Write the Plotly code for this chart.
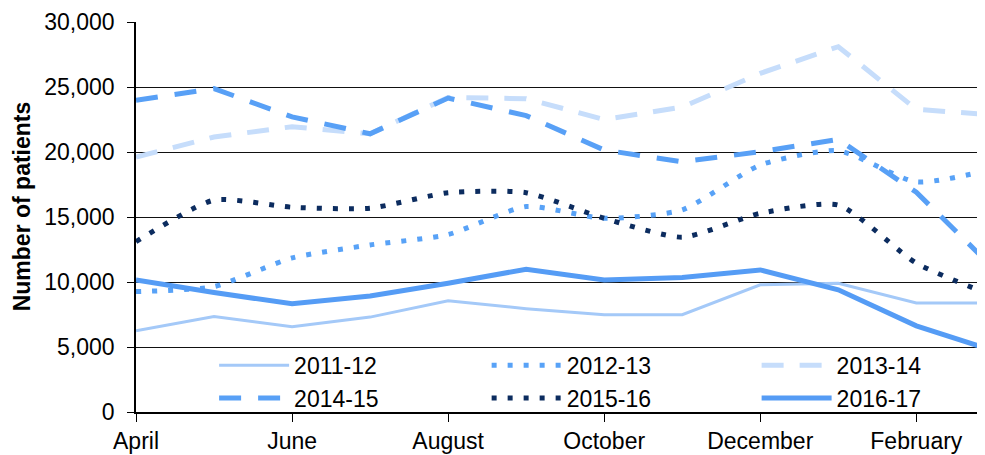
import plotly.graph_objs as go

months = ["April", "May", "June", "July", "August", "September", "October",
          "November", "December", "January", "February", "March"]
tick_months = ["April", "June", "August", "October", "December", "February"]

y_2011_12 = [6250, 7350, 6550, 7300, 8550, 7950, 7480, 7480, 9780, 9900, 8380, 8380]
y_2012_13 = [9260, 9650, 11850, 12850, 13650, 15800, 14900, 15550, 19000, 20100, 17700, 18700]
y_2013_14 = [19600, 21150, 21950, 21400, 24200, 24100, 22500, 23450, 26050, 28100, 23280, 22850]
y_2014_15 = [23980, 24880, 22700, 21400, 24150, 22800, 20150, 19250, 20020, 20970, 16900, 11000]
y_2015_16 = [13100, 16300, 15750, 15680, 16870, 16870, 14900, 13450, 15280, 15920, 11450, 8900]
y_2016_17 = [10160, 9190, 8320, 8930, 9910, 10980, 10160, 10340, 10930, 9400, 6630, 4700]

fig = go.Figure()

# name, values, line style, shape, legend column
series = [
    ("2011-12", y_2011_12, dict(color="#a4c9f8", width=3), "linear", "legend"),
    ("2012-13", y_2012_13, dict(color="#58a2f7", width=5, dash="5px,11px"), "spline", "legend2"),
    ("2013-14", y_2013_14, dict(color="#c6ddfb", width=5, dash="22px,16px"), "linear", "legend3"),
    ("2014-15", y_2014_15, dict(color="#58a0f6", width=5, dash="22px,17px"), "linear", "legend"),
    ("2015-16", y_2015_16, dict(color="#0c2c5f", width=5, dash="5px,11px"), "spline", "legend2"),
    ("2016-17", y_2016_17, dict(color="#559cf5", width=5), "linear", "legend3"),
]

for name, ys, line, shape, leg in series:
    line["shape"] = shape
    if shape == "spline":
        line["smoothing"] = 0.6
    fig.add_trace(go.Scatter(x=months, y=ys, mode="lines", name=name,
                             line=line, legend=leg))

font = "Liberation Sans, Arial, sans-serif"


def legend_col(x):
    return dict(
        orientation="v",
        x=x,
        xanchor="left",
        y=0.175,
        yanchor="top",
        bgcolor="rgba(255,255,255,0)",
        font=dict(size=23),
        itemwidth=70,
        tracegroupgap=0,
        traceorder="normal",
    )


# page body has an 8px margin, so the figure is a bit smaller and shifted
fig.update_layout(
    width=977,
    height=447,
    margin=dict(l=128, r=0, t=14, b=43),
    paper_bgcolor="white",
    plot_bgcolor="white",
    font=dict(family=font, size=23, color="black"),
    showlegend=True,
    legend=legend_col(0.092),
    legend2=legend_col(0.413),
    legend3=legend_col(0.731),
    xaxis=dict(
        type="category",
        range=[0, 10.88],
        tickvals=tick_months,
        ticks="outside",
        ticklen=8,
        tickcolor="black",
        showline=True,
        linecolor="black",
        linewidth=1.5,
        showgrid=False,
        zeroline=False,
        automargin=False,
        tickfont=dict(size=23),
    ),
    yaxis=dict(
        range=[0, 30000],
        tickvals=[0, 5000, 10000, 15000, 20000, 25000, 30000],
        tickformat=",d",
        ticks="outside",
        ticklen=7,
        tickcolor="black",
        showline=True,
        linecolor="black",
        linewidth=1.5,
        showgrid=True,
        gridcolor="#111111",
        gridwidth=1,
        zeroline=False,
        automargin=False,
        ticklabelstandoff=8,
        tickfont=dict(size=23),
    ),
)

# axis title sits a little above the plot centre, as in the original
fig.add_annotation(
    text="<b>Number of patients</b>",
    textangle=-90,
    xref="paper", yref="paper",
    x=-0.134, y=0.528,
    xanchor="center", yanchor="middle",
    showarrow=False,
    font=dict(size=23),
)

fig.write_html("out.html")
